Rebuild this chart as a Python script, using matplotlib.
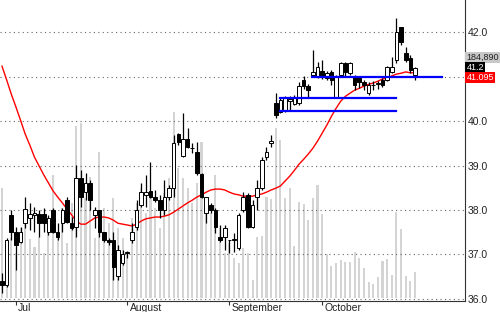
import matplotlib
matplotlib.use("Agg")
import matplotlib.pyplot as plt
import matplotlib.transforms as mtransforms
import numpy as np

plt.rcParams['font.family'] = ['Liberation Sans', 'DejaVu Sans']

# daily bars (index 0 = late June)
opens = [36.40, 36.31, 37.89, 37.50, 37.28, 37.70, 37.82, 37.89, 37.91, 37.91,
         37.50, 38.00, 37.50, 37.70, 38.22, 37.70, 37.61, 38.72, 38.40, 38.61,
         37.89, 38.00, 37.50, 37.32, 37.32, 36.51, 36.80, 37.03, 37.32, 37.61,
         38.11, 38.34, 38.43, 38.29, 38.22, 38.00, 38.29, 38.49, 39.71, 39.21,
         39.60, 39.39, 39.30, 38.81, 37.93, 38.11, 38.00, 37.39, 37.39, 37.32,
         37.32, 37.14, 38.00, 38.34, 37.61, 38.29, 38.49, 39.19, 39.51, 40.41,
         40.20, 40.25, 40.46, 40.39, 40.41, 40.93, 40.79, 41.04, 40.99, 41.13,
         40.97, 41.11, 40.52, 41.04, 41.31, 41.08, 40.99, 40.99, 40.88, 40.63,
         40.81, 40.84, 40.93, 40.93, 41.11, 41.38, 42.12, 41.53, 41.42, 41.04]
closes = [36.31, 37.32, 37.50, 37.21, 37.50, 38.02, 37.91, 37.93, 37.70, 37.70,
          37.82, 37.50, 37.39, 38.00, 37.73, 37.59, 38.72, 38.29, 38.61, 38.22,
          38.00, 37.50, 37.32, 37.28, 36.71, 37.10, 37.01, 37.05, 37.50, 38.00,
          38.40, 38.40, 38.29, 38.22, 38.00, 38.29, 38.49, 39.51, 39.53, 39.60,
          39.42, 39.40, 38.83, 38.29, 38.29, 38.00, 37.61, 37.32, 37.59, 37.33,
          37.34, 37.89, 38.29, 37.61, 38.11, 38.49, 39.12, 39.30, 39.55, 40.14,
          40.48, 40.52, 40.50, 40.52, 40.79, 40.79, 40.70, 41.11, 41.22, 40.99,
          41.08, 40.93, 40.99, 41.31, 41.11, 41.31, 40.81, 40.88, 40.81, 40.81,
          40.82, 40.85, 40.81, 41.22, 41.22, 42.01, 41.78, 41.38, 41.15, 41.20]
highs = [36.58, 37.37, 38.00, 37.61, 37.61, 38.29, 38.16, 38.07, 38.00, 38.04,
         37.89, 38.04, 37.70, 38.04, 38.29, 37.84, 39.02, 38.90, 38.83, 38.67,
         38.07, 38.00, 37.50, 37.37, 37.50, 37.21, 37.10, 37.07, 37.70, 38.22,
         38.61, 38.79, 39.08, 38.45, 38.34, 38.67, 38.56, 39.69, 39.73, 40.18,
         39.84, 39.51, 39.53, 38.83, 38.29, 38.16, 38.04, 37.66, 37.66, 37.33,
         37.48, 37.93, 38.40, 38.38, 38.22, 38.67, 39.19, 39.42, 39.69, 40.63,
         40.54, 40.57, 40.57, 40.59, 40.88, 41.02, 40.84, 41.60, 41.33, 41.38,
         41.13, 41.15, 41.04, 41.33, 41.33, 41.33, 41.04, 41.02, 40.93, 40.88,
         40.90, 40.90, 40.97, 41.24, 41.44, 42.32, 42.12, 41.67, 41.49, 41.22]
lows = [36.13, 36.27, 37.32, 36.65, 37.25, 37.59, 37.55, 37.50, 37.39, 37.50,
        37.43, 37.48, 37.32, 37.50, 37.70, 37.55, 37.39, 38.07, 38.22, 38.00,
        37.59, 37.39, 37.28, 37.21, 36.42, 36.42, 36.76, 36.92, 37.25, 37.55,
        38.07, 38.07, 38.27, 38.18, 37.82, 37.89, 38.22, 38.29, 39.46, 39.19,
        39.39, 39.28, 38.79, 38.27, 37.70, 37.93, 37.48, 37.28, 37.10, 37.03,
        37.05, 37.10, 37.95, 37.59, 37.59, 38.00, 38.45, 39.12, 39.42, 40.07,
        40.18, 40.20, 40.23, 40.36, 40.36, 40.72, 40.54, 40.99, 40.97, 40.95,
        40.93, 40.81, 40.52, 40.99, 41.02, 41.04, 40.70, 40.75, 40.70, 40.59,
        40.70, 40.72, 40.77, 40.90, 41.08, 41.31, 41.71, 41.33, 41.08, 40.93]
# volume in thousands
volume = [782, 391, 427, 320, 498, 626, 419, 363, 434, 320,
          469, 875, 448, 640, 391, 675, 1223, 1244, 711, 860,
          427, 1038, 640, 533, 711, 498, 427, 320, 569, 675,
          782, 604, 711, 640, 498, 747, 853, 1322, 924, 853,
          782, 675, 818, 1109, 711, 604, 875, 498, 320, 391,
          284, 249, 356, 320, 128, 434, 441, 718, 704, 1209,
          1123, 711, 782, 370, 683, 668, 555, 711, 803, 597,
          313, 228, 249, 270, 256, 256, 327, 284, 213, 114,
          100, 149, 263, 277, 164, 611, 491, 156, 121, 184.89]
# moving average (red)
ma = [41.24, 40.93, 40.61, 40.32, 40.02, 39.71, 39.46, 39.19, 38.99, 38.79,
      38.61, 38.43, 38.29, 38.16, 38.02, 37.89, 37.75, 37.68, 37.68, 37.75,
      37.82, 37.84, 37.84, 37.82, 37.77, 37.70, 37.68, 37.66, 37.64, 37.68,
      37.75, 37.80, 37.82, 37.84, 37.84, 37.86, 37.89, 37.95, 38.02, 38.09,
      38.16, 38.22, 38.29, 38.34, 38.40, 38.45, 38.47, 38.47, 38.45, 38.40,
      38.36, 38.34, 38.31, 38.31, 38.31, 38.34, 38.36, 38.40, 38.45, 38.49,
      38.54, 38.65, 38.76, 38.89, 39.03, 39.14, 39.26, 39.39, 39.55, 39.73,
      39.91, 40.11, 40.29, 40.45, 40.56, 40.63, 40.70, 40.74, 40.79, 40.83,
      40.86, 40.90, 40.95, 40.97, 41.02, 41.06, 41.08, 41.11, 41.09, 41.095]

# drawn support/resistance levels
level_price = [41.00, 40.53, 40.22]
level_start = [66.8, 59.9, 59.9]
level_end = [94.8, 84.9, 84.9]

month_labels = ['Jul', 'August', 'September', 'October']
month_pos = [3, 27, 49, 69]
price_ticks = [36.0, 37.0, 38.0, 39.0, 40.0, 41.0, 42.0]
# 41.0 sits under the value boxes on the right, so it is not labelled
price_labels = ['36.0', '37.0', '38.0', '39.0', '40.0', '', '42.0']

x = np.arange(len(opens))
o = np.array(opens)
c = np.array(closes)

fig = plt.figure(figsize=(5, 3.12), dpi=100)
ax = fig.add_axes([0.0, 0.0362, 0.93, 0.9638])
axv = ax.twinx()

# volume underneath
axv.bar(x, volume, width=0.45, color='#d4d4d4', zorder=1)
axv.set_ylim(-17, 2121)
axv.set_yticks([])
for s in axv.spines.values():
    s.set_visible(False)
ax.set_zorder(axv.get_zorder() + 1)
ax.patch.set_visible(False)

# grid
for p in price_ticks:
    ax.axhline(p, color='#666666', lw=0.8, ls=(0, (1, 3)), zorder=1)

# moving average
ax.plot(x, ma, color='#ff0000', lw=1.0, zorder=2)

# candles
ax.vlines(x, lows, highs, color='black', lw=0.9, zorder=3)
up = c >= o
body_h = np.maximum(np.abs(c - o), 0.012)
ax.bar(x, body_h, bottom=np.minimum(o, c), width=0.78,
       color=np.where(up, 'white', 'black'), edgecolor='black',
       linewidth=0.7, zorder=4)

# levels
for lp, ls_, le in zip(level_price, level_start, level_end):
    ax.plot([ls_, le], [lp, lp], color='#0000ff', lw=1.6, zorder=5)

ax.set_xlim(-0.43, 99.78)
ax.set_ylim(35.955, 42.73)

ax.spines['left'].set_visible(False)
ax.spines['top'].set_visible(False)
ax.spines['right'].set_color('#333333')
ax.spines['bottom'].set_color('#333333')

ax.yaxis.tick_right()
ax.set_yticks(price_ticks)
ax.set_yticklabels(price_labels)
ax.tick_params(axis='y', length=0, pad=2, labelsize=7.5, colors='#222222')

ax.set_xticks(month_pos)
ax.set_xticklabels([])
ax.tick_params(axis='x', length=3, width=0.8, direction='out', colors='#333333')
trans = mtransforms.blended_transform_factory(ax.transData, ax.transAxes)
for lab, pos in zip(month_labels, month_pos):
    ax.text(pos + 0.5, -0.008, lab, transform=trans, ha='left', va='top',
            fontsize=7.5, color='#222222')

# value boxes on the right
def value_box(yfrac, txt, bg, fg):
    ax.text(1.003, yfrac, txt, transform=ax.transAxes, ha='left', va='center',
            fontsize=6.5, color=fg, zorder=10, clip_on=False,
            bbox=dict(boxstyle='square,pad=0.12', fc=bg, ec='none'))

value_box(0.810, f'{volume[-1] * 1000:,.0f}', '#c8c8c8', '#222222')
value_box(0.776, f'{closes[-1]:.1f}', 'black', 'white')
value_box(0.741, f'{ma[-1]:.3f}', '#ff0000', 'white')

fig.savefig('out.png', dpi=100)
